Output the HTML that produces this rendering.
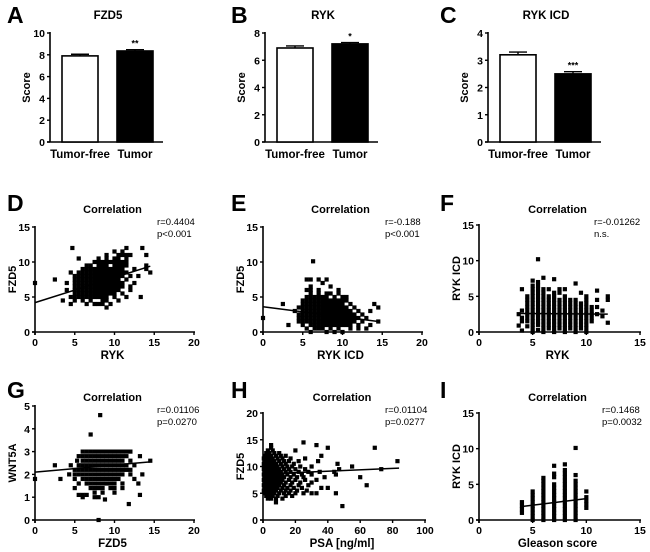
<!DOCTYPE html>
<html><head><meta charset="utf-8"><style>
html,body{margin:0;padding:0;background:#fff;}
svg{display:block;font-family:"Liberation Sans",Arial,sans-serif;}
</style></head><body>
<svg id="fig" width="650" height="552" viewBox="0 0 650 552"></svg>
<script>
// ---- Bar chart data ----
const barCats = ["Tumor-free","Tumor"];
const aVals = [7.9, 8.35]; const aErr = [0.15, 0.12]; const aStars = ["", "**"];
const bVals = [6.9, 7.2];  const bErr = [0.15, 0.1];  const bStars = ["", "*"];
const cVals = [3.2, 2.5];  const cErr = [0.1, 0.08];  const cStars = ["", "***"];
const aTicks = [0,2,4,6,8,10]; const bTicks = [0,2,4,6,8]; const cTicks = [0,1,2,3,4];

// ---- Scatter data (rows: [y, [x...]] ; cols: [x, [y...]]) ----
const dRows = [[4,[4.5,6.5,7.5,8,8.5,9.5]],[4.5,[3.5,5,6,7,8.5,9,10.5]],[5,[4.5,5,5.5,6,6.5,7,7.5,8,8.5,9,10,11.5,13.3]],
[5.5,[5,5.5,6,6.5,7,7.5,8,8.5,9,9.5,10,11]],[6,[4,5,5.5,6,6.5,7,7.5,8,8.5,9,9.5,10,10.5,12]],
[6.5,[5,5.5,6,6.5,7,7.5,8,8.5,9,9.5,10,10.5,11,12]],[7,[0,4,5,5.5,6,6.5,7,7.5,8,8.5,9,9.5,10,10.5,11,12.5]],
[7.5,[2.5,5,5.5,6,6.5,7,7.5,8,8.5,9,9.5,10,10.5,11.5]],[8,[5,5.5,6,6.5,7,7.5,8,8.5,9,9.5,10,10.5,11,12,13]],
[8.5,[4.5,5.5,6,6.5,7,7.5,8,8.5,9,9.5,10,10.5,11,11.5,14.5]],[9,[6,6.5,7,7.5,8,8.5,9,9.5,10,10.5,11,12.5,14]],
[9.5,[6.5,7,8,8.5,9,10,10.5,11,11.5,14]],[10,[7.5,8,8.5,9,9.5,10,10.5,11,11.5]],[10.5,[5.5,8,9,10,10.5,11.5]],
[11,[9,10.5,11,11.5,12,14]],[11.5,[10,11]],[12,[4.7,11.5,13.5]],[3.5,[9]]];
const dFitX = [0,14.5]; const dFitY = [4.2,9.4];

const eRows = [[0,[6,8,9,10]],[0.5,[5.5,6.5,7,7.5,8.5,9.5,11,12,13]],[1,[3.2,5,6,6.5,7,7.5,8,8.5,9,9.5,10,10.5,11,12,13.5]],
[1.5,[4.5,5,5.5,6,6.5,7,7.5,8,8.5,9,9.5,10,10.5,11,11.5,12.5,14.5]],[2,[0,4.5,5,5.5,6,6.5,7,7.5,8,8.5,9,9.5,10,10.5,11,11.5,12,13]],
[2.5,[4.5,5,5.5,6,6.5,7,7.5,8,8.5,9,9.5,10,10.5,11,11.5,12.5]],[3,[4,5,5.5,6,6.5,7,7.5,8,8.5,9,9.5,10,10.5,11,12,13.5]],
[3.5,[4.5,5,5.5,6,6.5,7,7.5,8,8.5,9,9.5,10,10.5,11.5,14.5]],[4,[2.5,5,5.5,6,6.5,7,7.5,8,8.5,9,9.5,10,11,14]],
[4.5,[5,5.5,6,6.5,7,7.5,8,8.5,9,9.5,10,10.5]],[5,[5.5,6,6.5,7,7.5,8,9,10,10.5]],[5.5,[6,7,8,8.5,9.5]],
[6,[5.5,6,7,9.5]],[6.5,[6,8.5]],[7,[7.5]],[7.5,[5.5,6,7,8]],[10.1,[6.3]]];
const eFitX = [0,14.5]; const eFitY = [3.6,1.5];

const fCols = [[3.7,[0.9,2.5]],[4,[0.2,1.5,2,3,6]],[4.5,[0.8,1.5,2,2.5,3,3.5,4,4.5,5]],
[5,[0,0.5,1,1.5,2,2.5,3,3.5,4,4.5,5,5.5,6,6.5,7.2]],[5.5,[0.3,1,1.5,2,2.5,3,3.5,4,4.5,5,5.5,6,6.5,7,10.2]],
[6,[0,0.5,1,1.5,2,2.5,3,3.5,4,4.5,5,5.5,6,7.6]],[6.5,[0.5,1,1.5,2,2.5,3,3.5,4,4.5,5,6]],
[7,[0,0.5,1,1.5,2,2.5,3,3.5,4,4.5,5,5.5,7.4]],[7.5,[0.5,1,1.5,2,2.5,3,3.5,4,4.5,5.5,6]],
[8,[0,0.5,1,1.5,2,2.5,3,3.5,4,4.5,5,6]],[8.5,[0.5,1,1.5,2,2.5,3,3.5,4,4.5]],
[9,[0,0.5,1,1.5,2,2.5,3,3.5,4,4.5,6.8]],[9.5,[0.5,1,1.5,2,2.5,3,3.5,4,5.5]],
[10,[0,0.5,1,1.5,2,2.5,3,3.5,4,4.5,5]],[10.5,[1.5,2,2.5,3,3.5]],[11,[2.5,3.5,4.5,5.8]],[11.5,[2.2,3]],[12,[1.3,4.5,5]]];
const fFitX = [3.7,12]; const fFitY = [2.6,2.5];

const gRows = [[3,[6,6.5,7,7.5,8,8.5,9,9.5,10,10.5,11,11.5,12]],[2.8,[5.5,6,6.5,7,7.5,8,8.5,9,9.5,10,10.5,11,11.5,13.2]],
[2.6,[5.3,6,6.5,7,7.5,8,8.5,9,9.5,10,10.5,11,12,14.5]],[2.4,[2.5,4.5,5.5,6,6.5,7,7.5,8,8.5,9,9.5,10,10.5,11,11.5,12.5]],
[2.2,[5,5.5,6,6.5,7,7.5,8,8.5,9,9.5,10,10.5,11,11.5,12]],[2,[4.3,5,5.5,6,6.5,7,7.5,8,8.5,9,9.5,10,10.5,11,12,13.5]],
[1.8,[0,3.2,5,6,6.5,7,7.5,8,8.5,9,9.5,10,10.5,12.5]],[1.6,[5.5,6.5,7,7.5,8,8.5,9,9.5,10,11,13]],
[1.4,[5,7,7.5,8,8.5,9.5,10,11]],[1.2,[7.5,8.5,10]],[1.1,[5.5,6,6.5,13.2]],[1,[6,7.5,8]],[0.9,[8.8]],
[0.7,[11.8]],[0,[8]],[3.75,[7]],[4.6,[8.2]]];
const gFitX = [0,14.5]; const gFitY = [2.1,2.55];

const hRows = [[4,[3,5,8,12]],[3.3,[8]],[4.5,[2,4,6,9,14,18]],[5,[1,3,5,7,10,13,16,20,25,30,33,45]],
[5.5,[0.5,2,4,6,8,11,14,17,21,27]],[6,[1,3,5,7,9,12,15,19,24,36,40]],[6.5,[0.5,2,4,6,8,10,13,17,22,28,64]],
[7,[1,3,5,7,9,11,14,18,23,30]],[7.5,[0.5,2,4,6,8,10,12,16,20,26,33]],[8,[1,3,5,7,9,11,13,17,21,25,38,60]],
[8.5,[0.5,2,4,6,8,10,12,15,19,24,30,45]],[9,[1,3,5,7,9,11,14,17,22,28,35,44]],
[9.5,[0.5,2,4,6,8,10,13,16,20,26,47,73]],[10,[1,3,5,7,9,12,15,18,23,30,55]],
[10.5,[0.5,2,4,6,8,11,14,19,46]],[11,[1,3,5,7,10,13,16,22,34,83]],[11.5,[0.5,2,4,6,9,12,17,26]],
[12,[1,3,5,8,11,14,36]],[12.5,[2,4,7,10]],[13,[3,6,20]],[13.5,[5,40,69]],[14,[5,33]],[14.5,[25]],[2.6,[49]]];
const hFitX = [0,84]; const hFitY = [8.6,9.7];

const iCols = [[4,[1,1.5,2,2.5]],[5,[0,0.5,1,1.5,2,2.5,3,3.5,4]],[6,[0,0.5,1,1.5,2,2.5,3,3.5,4,4.5,5,5.5,5.9]],
[7,[0,0.5,1,1.5,2,2.5,3,3.5,4,4.5,5,6,6.5,7.6]],[8,[0,0.5,1,1.5,2,2.5,3,3.5,4,4.5,5,5.5,6,6.5,7,7.8]],
[9,[0,0.5,1,1.5,2,2.5,3,3.5,4,4.5,5,5.5,6.3,10.1]],[10,[1.7,2.2,2.7,3.2,4]]];
const iFitX = [4,10]; const iFitY = [1.9,3.0];

const t0_15 = [0,5,10,15], t0_20 = [0,5,10,15,20], t0_5=[0,1,2,3,4,5], t0_100=[0,20,40,60,80,100], t0_20b=[0,5,10,15,20];

const NS = "http://www.w3.org/2000/svg";
const svg = document.getElementById("fig");
function mk(tag, attrs, parent, txt){
  const e = document.createElementNS(NS, tag);
  for (const k in attrs) e.setAttribute(k, attrs[k]);
  if (txt !== undefined) e.textContent = txt;
  (parent||svg).appendChild(e); return e;
}
function text(x,y,s,size,weight,anchor,parent,name,rot){
  const t = mk("text",{x:x,y:y,"font-size":size,"font-weight":weight,"text-anchor":anchor,fill:"#000"},parent,s);
  if (rot) t.setAttribute("transform","rotate(-90 "+x+" "+y+")");
  
  
  return t;
}
function panelGroup(name){
  const g = mk("g",{});
  
  
  return g;
}

function barPanel(o){
  const g = panelGroup(o.name);
  const ys = v => o.yb - (v - 0)/(o.ymax)*(o.yb - o.yt);
  text(o.lx, o.ly, o.letter, 23, "bold", "start", g, "panel-letter-"+o.letter.toLowerCase());
  text(o.ax + 58, 19, o.title, 11.5, "bold", "middle", g, "panel-title");
  const ax = mk("line",{x1:o.ax,y1:o.yt-1,x2:o.ax,y2:o.yb,stroke:"#000","stroke-width":1.6},g);
   
  const xa = mk("line",{x1:o.ax-3,y1:o.yb,x2:o.ax+113,y2:o.yb,stroke:"#000","stroke-width":1.6},g);
   
  o.ticks.forEach(t=>{
    const y = ys(t);
    mk("line",{x1:o.ax-3,y1:y,x2:o.ax,y2:y,stroke:"#000","stroke-width":1.4},g);
    text(o.ax-5, y+4, String(t), 10.5, "bold", "end", g, "y-tick-label");
  });
  text(o.ax-20, (o.yt+o.yb)/2, "Score", 11, "bold", "middle", g, "y-axis-title", true);
  const offs = [12, 67];
  o.vals.forEach((v,i)=>{
    const x0 = o.ax + offs[i], w = 36, y = ys(v);
    const b = mk("rect",{x:x0,y:y,width:w,height:o.yb-y,fill:i?"#000":"#fff",stroke:"#000","stroke-width":1.6},g);
    
    
    const ye = ys(v + o.err[i]);
    mk("line",{x1:x0+w/2,y1:y,x2:x0+w/2,y2:ye,stroke:"#000","stroke-width":1.4},g);
    const cap = mk("line",{x1:x0+w/2-9,y1:ye,x2:x0+w/2+9,y2:ye,stroke:"#000","stroke-width":1.4},g);
     
    if (o.stars[i]) text(x0+w/2, ye-3, o.stars[i], 9, "bold", "middle", g, "significance-stars");
    text(x0+w/2, o.yb+16, barCats[i], 11.5, "bold", "middle", g, "category-label");
  });
}

function scatterPanel(o){
  const g = panelGroup(o.name);
  const xs = v => o.ax + (v - o.xmin)/(o.xmax - o.xmin)*(o.x1 - o.ax);
  const ys = v => o.yb - (v - o.ymin)/(o.ymax - o.ymin)*(o.yb - o.yt);
  text(o.lx, o.ly, o.letter, 23, "bold", "start", g, "panel-letter-"+o.letter.toLowerCase());
  text((o.ax+o.x1)/2 - 2, o.ty, "Correlation", 11, "bold", "middle", g, "panel-title");
  text(o.rx, o.ty+12, o.r1, 9.5, "normal", "start", g, "r-value");
  text(o.rx, o.ty+24, o.r2, 9.5, "normal", "start", g, "p-value");
  const ya = mk("line",{x1:o.ax,y1:o.yt-1,x2:o.ax,y2:o.yb+3,stroke:"#000","stroke-width":1.6},g);
   
  const xa = mk("line",{x1:o.ax-3,y1:o.yb,x2:o.x1+1,y2:o.yb,stroke:"#000","stroke-width":1.6},g);
   
  o.yticks.forEach(t=>{
    const y = ys(t);
    mk("line",{x1:o.ax-3,y1:y,x2:o.ax,y2:y,stroke:"#000","stroke-width":1.4},g);
    text(o.ax-5, y+4, String(t), 10.5, "bold", "end", g, "y-tick-label");
  });
  o.xticks.forEach(t=>{
    const x = xs(t);
    mk("line",{x1:x,y1:o.yb,x2:x,y2:o.yb+3,stroke:"#000","stroke-width":1.4},g);
    text(x, o.yb+14, String(t), 10.5, "bold", "middle", g, "x-tick-label");
  });
  text((o.ax+o.x1)/2 - 2, o.yb+27, o.xlab, 11.5, "bold", "middle", g, "x-axis-title");
  text(o.ax-19, (o.yt+o.yb)/2, o.ylab, 11, "bold", "middle", g, "y-axis-title", true);
  const s = 4.2;
  const pts = [];
  if (o.rows) o.rows.forEach(r=>r[1].forEach(x=>pts.push([x,r[0]])));
  if (o.cols) o.cols.forEach(c=>c[1].forEach(y=>pts.push([c[0],y])));
  pts.forEach(p=>{
    const m = mk("rect",{x:xs(p[0])-s/2,y:ys(p[1])-s/2,width:s,height:s,fill:"#000"},g);
    
    
  });
  const l = mk("line",{x1:xs(o.fx[0]),y1:ys(o.fy[0]),x2:xs(o.fx[1]),y2:ys(o.fy[1]),stroke:"#000","stroke-width":1.5},g);
   
}

barPanel({name:"panel-a",letter:"A",lx:7,ly:23,ax:50,yt:33,yb:142,ymax:10,ticks:aTicks,vals:aVals,err:aErr,stars:aStars,title:"FZD5"});
barPanel({name:"panel-b",letter:"B",lx:231,ly:23,ax:265,yt:33,yb:142,ymax:8,ticks:bTicks,vals:bVals,err:bErr,stars:bStars,title:"RYK"});
barPanel({name:"panel-c",letter:"C",lx:440,ly:23,ax:488,yt:33,yb:142,ymax:4,ticks:cTicks,vals:cVals,err:cErr,stars:cStars,title:"RYK ICD"});

scatterPanel({name:"panel-d",letter:"D",lx:7,ly:211,ax:35,x1:194,yt:227,yb:332,xmin:0,xmax:20,ymin:0,ymax:15,xticks:t0_20,yticks:t0_15,
  ty:213,rx:157,r1:"r=0.4404",r2:"p<0.001",xlab:"RYK",ylab:"FZD5",rows:dRows,fx:dFitX,fy:dFitY});
scatterPanel({name:"panel-e",letter:"E",lx:231,ly:211,ax:263,x1:422,yt:227,yb:332,xmin:0,xmax:20,ymin:0,ymax:15,xticks:t0_20,yticks:t0_15,
  ty:213,rx:385,r1:"r=-0.188",r2:"p<0.001",xlab:"RYK ICD",ylab:"FZD5",rows:eRows,fx:eFitX,fy:eFitY});
scatterPanel({name:"panel-f",letter:"F",lx:440,ly:211,ax:479,x1:640,yt:225,yb:332,xmin:0,xmax:15,ymin:0,ymax:15,xticks:t0_15,yticks:t0_15,
  ty:213,rx:594,r1:"r=-0.01262",r2:"n.s.",xlab:"RYK",ylab:"RYK ICD",cols:fCols,fx:fFitX,fy:fFitY});
scatterPanel({name:"panel-g",letter:"G",lx:7,ly:398,ax:35,x1:194,yt:406,yb:520,xmin:0,xmax:20,ymin:0,ymax:5,xticks:t0_20b,yticks:t0_5,
  ty:401,rx:157,r1:"r=0.01106",r2:"p=0.0270",xlab:"FZD5",ylab:"WNT5A",rows:gRows,fx:gFitX,fy:gFitY});
scatterPanel({name:"panel-h",letter:"H",lx:231,ly:398,ax:263,x1:425,yt:413,yb:520,xmin:0,xmax:100,ymin:0,ymax:20,xticks:t0_100,yticks:[0,5,10,15,20],
  ty:401,rx:385,r1:"r=0.01104",r2:"p=0.0277",xlab:"PSA [ng/ml]",ylab:"FZD5",rows:hRows,fx:hFitX,fy:hFitY});
scatterPanel({name:"panel-i",letter:"I",lx:440,ly:398,ax:479,x1:640,yt:413,yb:520,xmin:0,xmax:15,ymin:0,ymax:15,xticks:t0_15,yticks:t0_15,
  ty:401,rx:602,r1:"r=0.1468",r2:"p=0.0032",xlab:"Gleason score",ylab:"RYK ICD",cols:iCols,fx:iFitX,fy:iFitY});
</script>
</body></html>
